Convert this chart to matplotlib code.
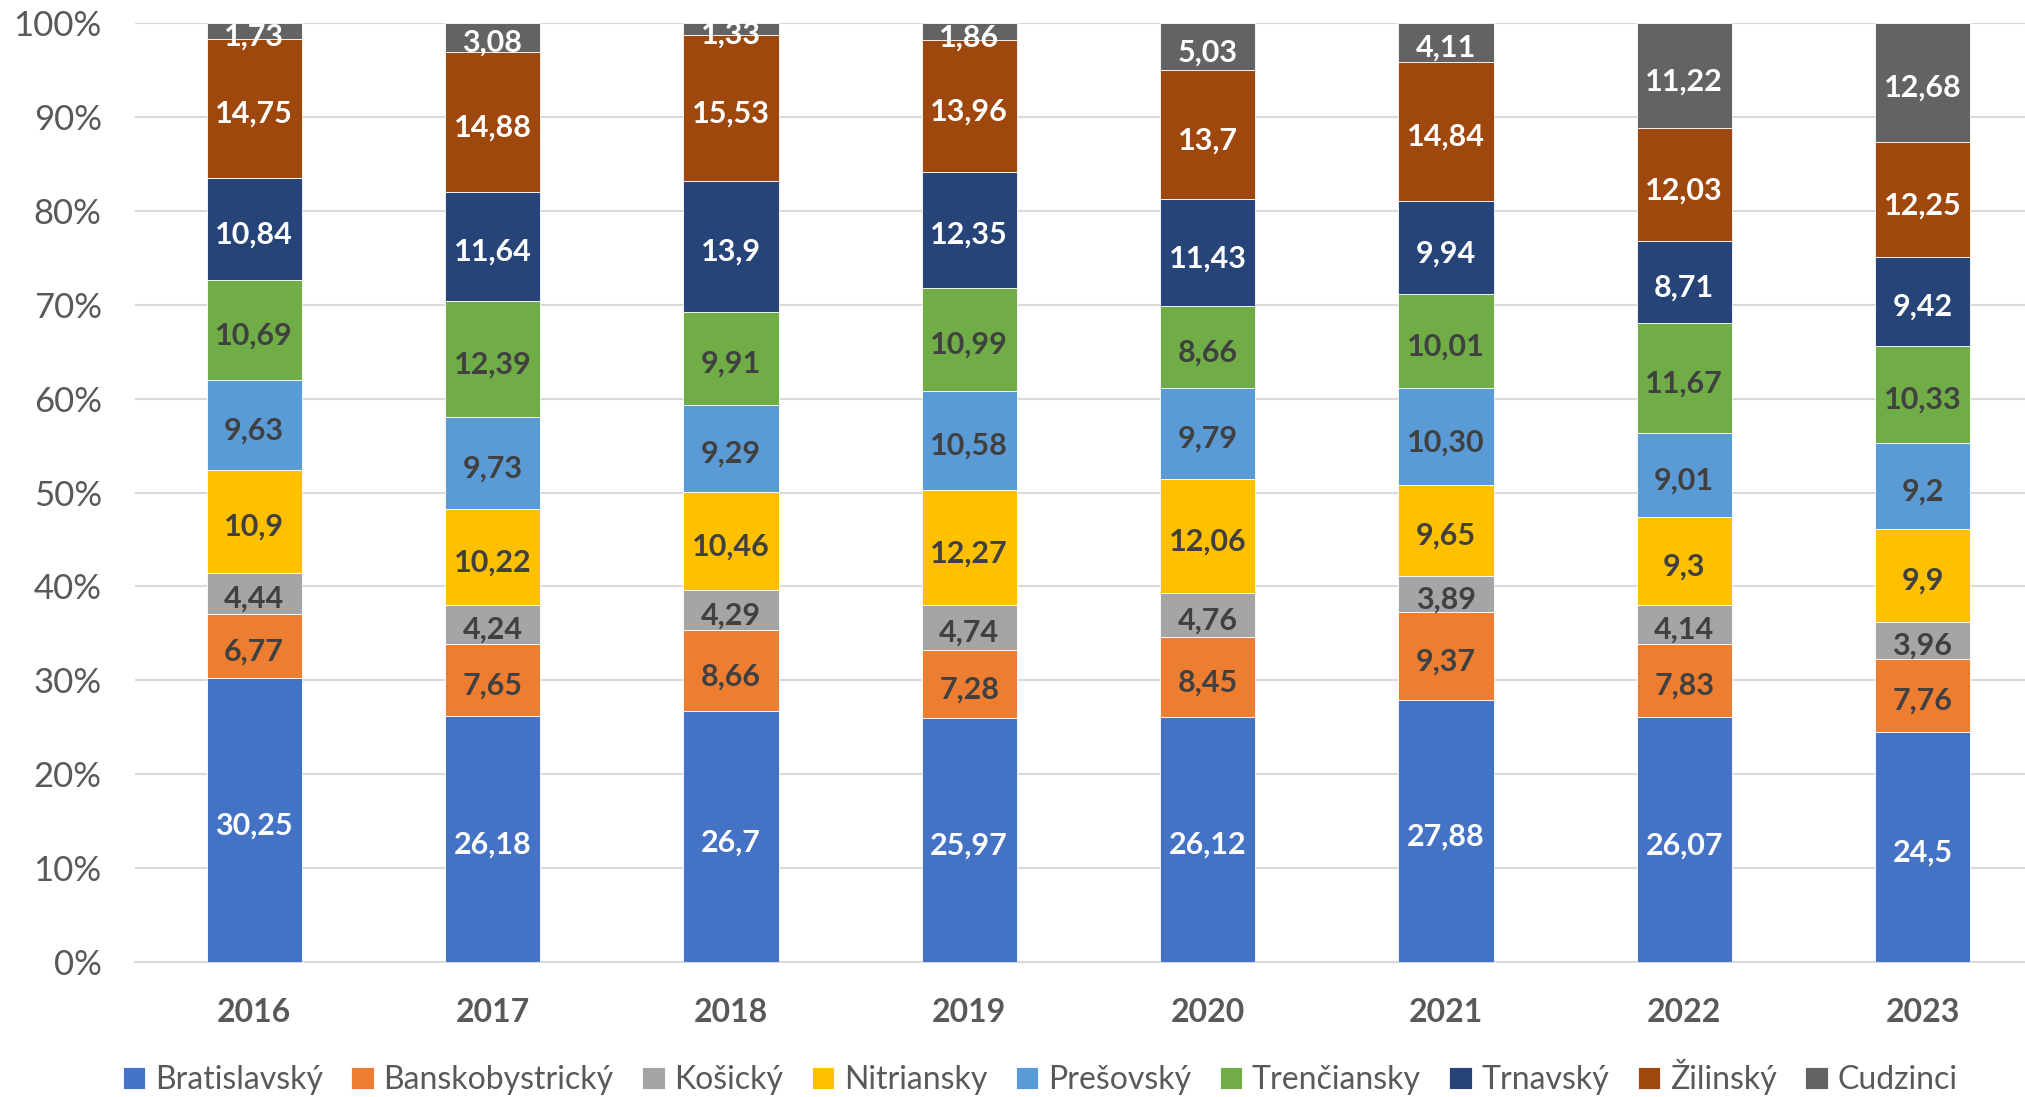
import matplotlib
matplotlib.use("Agg")
import matplotlib.pyplot as plt
from matplotlib.transforms import offset_copy
import numpy as np

years = ["2016", "2017", "2018", "2019", "2020", "2021", "2022", "2023"]
regions = ["Bratislavský", "Banskobystrický", "Košický", "Nitriansky", "Prešovský",
           "Trenčiansky", "Trnavský", "Žilinský", "Cudzinci"]

bratislavsky = ["30.25", "26.18", "26.7", "25.97", "26.12", "27.88", "26.07", "24.5"]
banskobystricky = ["6.77", "7.65", "8.66", "7.28", "8.45", "9.37", "7.83", "7.76"]
kosicky = ["4.44", "4.24", "4.29", "4.74", "4.76", "3.89", "4.14", "3.96"]
nitriansky = ["10.9", "10.22", "10.46", "12.27", "12.06", "9.65", "9.3", "9.9"]
presovsky = ["9.63", "9.73", "9.29", "10.58", "9.79", "10.30", "9.01", "9.2"]
trenciansky = ["10.69", "12.39", "9.91", "10.99", "8.66", "10.01", "11.67", "10.33"]
trnavsky = ["10.84", "11.64", "13.9", "12.35", "11.43", "9.94", "8.71", "9.42"]
zilinsky = ["14.75", "14.88", "15.53", "13.96", "13.7", "14.84", "12.03", "12.25"]
cudzinci = ["1.73", "3.08", "1.33", "1.86", "5.03", "4.11", "11.22", "12.68"]

series = [bratislavsky, banskobystricky, kosicky, nitriansky, presovsky,
          trenciansky, trnavsky, zilinsky, cudzinci]
colors = ["#4472C4", "#ED7D31", "#A5A5A5", "#FFC000", "#5B9BD5",
          "#70AD47", "#264478", "#9E480E", "#636363"]
text_colors = ["white", "#404040", "#404040", "#404040", "#404040",
               "#404040", "white", "white", "white"]

plt.rcParams['font.family'] = ['Lato', 'DejaVu Sans']

vals = np.array([[float(v) for v in s] for s in series])
totals = vals.sum(axis=0)
pct = vals / totals * 100

fig = plt.figure(figsize=(20.25, 10.97), dpi=100)
ax = fig.add_axes([135 / 2025, 1 - 962 / 1097, (2025 - 135) / 2025, (962 - 23) / 1097])

lbl_tr = offset_copy(ax.transData, fig=fig, x=0, y=-4, units='points')

x = np.arange(len(years))
bottom = np.zeros(len(years))
for i, name in enumerate(regions):
    ax.bar(x, pct[i], 0.4, bottom=bottom, color=colors[i], label=name,
           edgecolor="white", linewidth=0.6, zorder=3)
    for j in range(len(years)):
        ax.text(x[j], bottom[j] + pct[i][j] / 2, series[i][j].replace('.', ','),
                ha='center', va='center', color=text_colors[i], fontsize=22,
                fontweight='bold', zorder=4, transform=lbl_tr)
    bottom += pct[i]

ax.set_ylim(0, 100)
ax.set_xlim(-0.5, 7.43)
ax.set_yticks(np.arange(0, 101, 10))
ax.set_yticklabels([f"{v}%" for v in range(0, 101, 10)], fontsize=25, color="#595959")
ax.set_xticks(x)
ax.set_xticklabels(years, fontsize=23, fontweight='bold', color="#595959")
ax.tick_params(axis='both', length=0)
ax.tick_params(axis='x', pad=26)
ax.tick_params(axis='y', pad=24)
ax.grid(axis='y', color="#D9D9D9", linewidth=1.5, zorder=0)
ax.set_axisbelow(True)
for s in ['top', 'right', 'left']:
    ax.spines[s].set_visible(False)
ax.spines['bottom'].set_color("#D9D9D9")
ax.spines['bottom'].set_linewidth(1.5)

handles, labels = ax.get_legend_handles_labels()
leg = fig.legend(handles, labels, loc='center', bbox_to_anchor=(1040 / 2025, 1 - 1077 / 1097),
                 ncol=9, frameon=False, fontsize=23, handlelength=0.7, handleheight=0.7,
                 handletextpad=0.3, columnspacing=0.9, borderaxespad=0)
for t in leg.get_texts():
    t.set_color("#595959")

fig.savefig("out.png", dpi=100)
